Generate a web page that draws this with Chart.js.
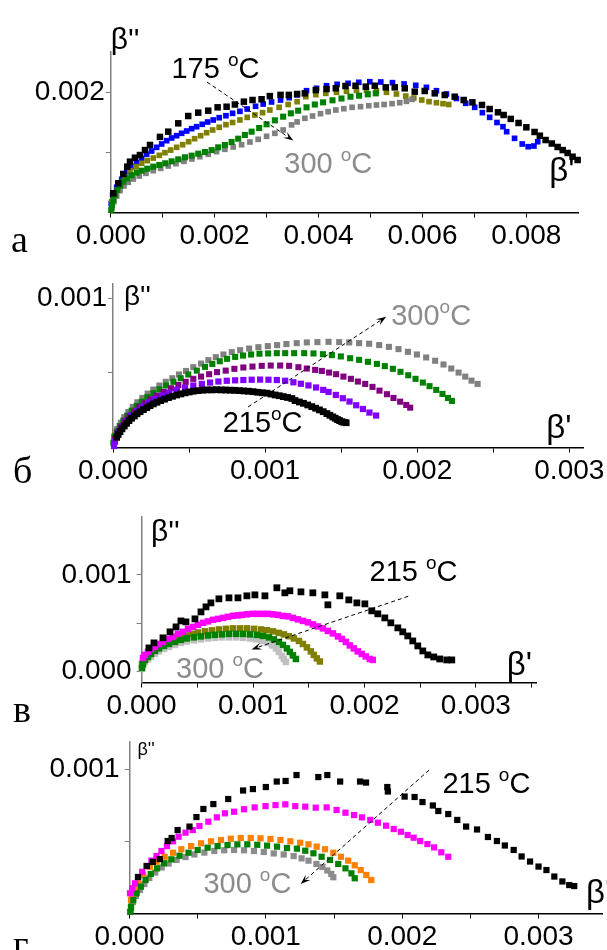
<!DOCTYPE html>
<html>
<head>
<meta charset="utf-8">
<script src="https://cdn.jsdelivr.net/npm/chart.js@4.4.1/dist/chart.umd.min.js"></script>
<style>
  html, body { margin: 0; padding: 0; background: #fff; }
  #page { position: relative; width: 607px; height: 950px; overflow: hidden; background: #fff; }
  #page canvas { position: absolute; left: 0; }
  .tag { position: absolute; font-family: "Liberation Serif", "DejaVu Serif", serif; font-size: 38px; line-height: 38px; color: #000; }
</style>
</head>
<body>
<div id="page">
  <canvas id="chartA" style="top:0px"></canvas>
  <canvas id="chartB" style="top:262px"></canvas>
  <canvas id="chartC" style="top:495px"></canvas>
  <canvas id="chartD" style="top:727px"></canvas>
  <div class="tag" style="left:11px;top:220px">а</div>
  <div class="tag" style="left:13px;top:451px">б</div>
  <div class="tag" style="left:13px;top:690px">в</div>
  <div class="tag" style="left:13px;top:925px">г</div>
</div>
<script>
// ---------- panel а : β'' vs β' , 175 … 300 °C ----------
const a175 = [[0.00005,0.00032],[0.000146,0.000487],[0.000242,0.000642],[0.000319,0.000764],[0.000371,0.000847],[0.000467,0.000913],[0.000563,0.000958],[0.00066,0.00104],[0.000756,0.001125],[0.000948,0.00126],[0.001108,0.001347],[0.0013,0.001486],[0.001492,0.001608],[0.001685,0.001664],[0.001877,0.001697],[0.002058,0.001753],[0.002231,0.001763],[0.00239,0.0018],[0.002563,0.001847],[0.00273,0.001875],[0.002904,0.001887],[0.003063,0.00194],[0.003269,0.00196],[0.003429,0.00196],[0.003588,0.001975],[0.003737,0.001986],[0.003948,0.00204],[0.004154,0.002058],[0.004333,0.00207],[0.004519,0.002108],[0.004712,0.002113],[0.00491,0.002097],[0.005083,0.002113],[0.005294,0.002086],[0.005467,0.002086],[0.00566,0.00207],[0.005852,0.002014],[0.006044,0.002025],[0.006237,0.001986],[0.006429,0.001958],[0.006621,0.00193],[0.006794,0.001875],[0.006962,0.001836],[0.007146,0.001792],[0.007294,0.001725],[0.007454,0.00167],[0.007563,0.001625],[0.0077,0.00156],[0.00785,0.001492],[0.008,0.00142],[0.008158,0.001342],[0.00826,0.00128],[0.008371,0.001208],[0.00849,0.00115],[0.008602,0.001092],[0.0087,0.00104],[0.008794,0.000992],[0.00889,0.00093],[0.008987,0.000875]];
const aBlue = [[0.00001,0.00015],[0.000038,0.000292],[0.000115,0.00042],[0.000212,0.000553],[0.000308,0.00068],[0.000404,0.000764],[0.0005,0.00083],[0.000596,0.000903],[0.000692,0.00097],[0.000788,0.001025],[0.000885,0.001086],[0.000981,0.001142],[0.001077,0.001197],[0.001173,0.001242],[0.001269,0.00128],[0.001365,0.00132],[0.001462,0.001358],[0.001558,0.001397],[0.001654,0.00143],[0.001762,0.00147],[0.001865,0.001508],[0.001973,0.001542],[0.002088,0.00158],[0.002218,0.001613],[0.002346,0.001653],[0.002487,0.001686],[0.002627,0.001725],[0.002788,0.00177],[0.002935,0.001808],[0.003096,0.001842],[0.003269,0.001875],[0.003435,0.001914],[0.003588,0.00196],[0.003769,0.00203],[0.003962,0.00207],[0.004154,0.002113],[0.004358,0.002136],[0.004569,0.002153],[0.004775,0.00217],[0.004987,0.00218],[0.005198,0.002175],[0.005423,0.002164],[0.005647,0.002142],[0.005871,0.00212],[0.006077,0.002086],[0.006269,0.00203],[0.006462,0.001975],[0.006654,0.0019],[0.006833,0.00182],[0.007006,0.001753],[0.007154,0.001664],[0.007294,0.001586],[0.007435,0.0015],[0.00755,0.00143],[0.007621,0.001347],[0.007773,0.001236],[0.007921,0.001142],[0.008035,0.001097],[0.008146,0.001108],[0.008219,0.00118]];
const aOlive = [[0.000019,0.00018],[0.000083,0.00032],[0.000179,0.000458],[0.000275,0.000597],[0.000371,0.000697],[0.000487,0.000764],[0.000596,0.00082],[0.000704,0.000864],[0.000819,0.000908],[0.000935,0.000953],[0.001044,0.000997],[0.001154,0.00104],[0.001269,0.001086],[0.001385,0.00113],[0.0015,0.00118],[0.001615,0.00123],[0.001731,0.00128],[0.001846,0.00133],[0.001962,0.001375],[0.002088,0.00142],[0.002218,0.001464],[0.002346,0.0015],[0.002487,0.001542],[0.002627,0.001586],[0.002775,0.001625],[0.002923,0.001664],[0.003063,0.001708],[0.003242,0.001753],[0.003415,0.0018],[0.003588,0.001847],[0.003756,0.00193],[0.003948,0.001964],[0.00414,0.001986],[0.004346,0.002003],[0.004538,0.00202],[0.004731,0.002036],[0.004923,0.00204],[0.005115,0.00203],[0.005308,0.002003],[0.0055,0.001975],[0.005679,0.00194],[0.005833,0.001908],[0.005987,0.001875],[0.006127,0.001847],[0.006269,0.00183],[0.006396,0.001814],[0.006506,0.0018]];
const aGreen = [[0.00001,0.000042],[0.000025,0.000125],[0.00005,0.000208],[0.000083,0.000292],[0.000127,0.000375],[0.000179,0.000447],[0.000242,0.000514],[0.000319,0.00057],[0.000404,0.00062],[0.0005,0.000664],[0.000596,0.000697],[0.000704,0.00073],[0.000819,0.000764],[0.000935,0.000792],[0.00105,0.00082],[0.001173,0.000853],[0.0013,0.000886],[0.001429,0.00092],[0.001558,0.000947],[0.001685,0.00098],[0.001813,0.001008],[0.001942,0.00104],[0.002069,0.001086],[0.002198,0.001125],[0.002327,0.001175],[0.002454,0.00123],[0.002583,0.001292],[0.002712,0.001347],[0.002858,0.001408],[0.003,0.00147],[0.00316,0.001536],[0.003319,0.001597],[0.003467,0.001653],[0.003608,0.001697],[0.003769,0.001753],[0.003929,0.0018],[0.004088,0.001836],[0.004269,0.00187],[0.004442,0.0019],[0.004615,0.00193],[0.004781,0.001947],[0.004948,0.00197],[0.005102,0.001986]];
const a300 = [[0.000025,0.00008],[0.000063,0.00018],[0.000115,0.000275],[0.000179,0.000364],[0.000256,0.000442],[0.000338,0.000503],[0.000435,0.000558],[0.00055,0.000608],[0.000679,0.000653],[0.000819,0.000697],[0.000962,0.000736],[0.001108,0.000775],[0.001256,0.000814],[0.00141,0.000853],[0.001563,0.000892],[0.001717,0.00093],[0.001877,0.00097],[0.002038,0.001014],[0.002198,0.001053],[0.002358,0.001092],[0.002519,0.00113],[0.002679,0.001175],[0.002838,0.00122],[0.003,0.00127],[0.00316,0.00132],[0.003319,0.001375],[0.003481,0.00146],[0.003588,0.00151],[0.003737,0.00157],[0.003885,0.001608],[0.004038,0.001647],[0.004185,0.00168],[0.004333,0.001708],[0.004487,0.00173],[0.004646,0.001753],[0.004808,0.001764],[0.004967,0.00178],[0.005115,0.001792],[0.005262,0.0018],[0.005415,0.001814],[0.005563,0.00183],[0.005692,0.001853],[0.0058,0.001886]];

// ---------- panel б : 215 … 300 °C ----------
const b215 = [[0.000024,0.000068],[0.000034,0.000087],[0.000046,0.000106],[0.000059,0.000125],[0.000074,0.000144],[0.000089,0.000162],[0.000105,0.00018],[0.000122,0.000196],[0.00014,0.000211],[0.000158,0.000226],[0.000178,0.00024],[0.0002,0.000254],[0.000222,0.000267],[0.000243,0.00028],[0.000265,0.000292],[0.000289,0.000303],[0.000314,0.000314],[0.000339,0.000324],[0.000364,0.000334],[0.000391,0.000343],[0.000419,0.000352],[0.000446,0.000359],[0.000474,0.000366],[0.000501,0.000372],[0.000528,0.000377],[0.000558,0.000381],[0.000588,0.000384],[0.000618,0.000386],[0.000649,0.000386],[0.00068,0.000387],[0.000711,0.000386],[0.00074,0.000385],[0.00077,0.000384],[0.0008,0.000383],[0.000829,0.000381],[0.00086,0.000379],[0.00089,0.000377],[0.000921,0.000374],[0.000952,0.00037],[0.000981,0.000367],[0.001011,0.000364],[0.001039,0.000358],[0.001066,0.000352],[0.001093,0.000347],[0.00112,0.000341],[0.001148,0.000335],[0.001176,0.000328],[0.001197,0.000314],[0.001225,0.000305],[0.001252,0.000296],[0.00128,0.000285],[0.001307,0.000274],[0.001332,0.000263],[0.001357,0.000252],[0.001382,0.00024],[0.001406,0.000227],[0.001426,0.000216],[0.001445,0.000205],[0.001461,0.000196],[0.001476,0.000187],[0.00149,0.00018],[0.001504,0.000173],[0.001518,0.000169],[0.001533,0.000166]];
const bViolet = [[0.0000066,0.00001],[0.000013,0.000039],[0.000024,0.000073],[0.000039,0.000106],[0.000061,0.000144],[0.000088,0.00018],[0.000118,0.000214],[0.000153,0.000245],[0.000191,0.000274],[0.000232,0.000301],[0.000276,0.000326],[0.000322,0.000348],[0.00037,0.000368],[0.000421,0.000386],[0.000474,0.000401],[0.000528,0.000415],[0.000584,0.000426],[0.000638,0.000435],[0.000693,0.000442],[0.000748,0.000447],[0.000803,0.00045],[0.000857,0.000452],[0.000912,0.000454],[0.000967,0.000455],[0.001022,0.000454],[0.001077,0.000452],[0.001132,0.000447],[0.001186,0.000437],[0.001235,0.000427],[0.001285,0.000416],[0.001335,0.000402],[0.001382,0.000386],[0.001417,0.000372],[0.001465,0.000352],[0.001511,0.00033],[0.001555,0.000308],[0.001599,0.000283],[0.001643,0.000258],[0.001686,0.000234],[0.00173,0.000214]];
const bPurple = [[0.000013,0.000055],[0.000031,0.000095],[0.000053,0.000135],[0.000079,0.000173],[0.000107,0.000207],[0.00014,0.000238],[0.000173,0.00027],[0.000211,0.000296],[0.000248,0.000323],[0.000289,0.000348],[0.000333,0.000372],[0.000382,0.000397],[0.00043,0.000419],[0.000478,0.00044],[0.000528,0.00046],[0.000579,0.000475],[0.000632,0.000491],[0.000684,0.000505],[0.000741,0.000515],[0.000798,0.000527],[0.000857,0.000536],[0.000917,0.000542],[0.000978,0.000547],[0.001037,0.000549],[0.001099,0.000549],[0.001158,0.000547],[0.001219,0.000538],[0.001274,0.000529],[0.001329,0.00052],[0.001373,0.000513],[0.001421,0.000502],[0.001467,0.000491],[0.001515,0.000475],[0.001564,0.00046],[0.00161,0.000442],[0.001658,0.000426],[0.001706,0.000406],[0.001752,0.000381],[0.001801,0.000357],[0.001844,0.000332],[0.001888,0.000307],[0.001928,0.000285],[0.001954,0.000267]];
const bGreen = [[0.000003,0.00003],[0.0000086,0.000073],[0.000024,0.000106],[0.000044,0.000144],[0.000068,0.00018],[0.000094,0.000214],[0.000123,0.000247],[0.000156,0.000279],[0.000189,0.000307],[0.000226,0.000337],[0.000265,0.000364],[0.000305,0.00039],[0.000349,0.000415],[0.000397,0.00044],[0.000445,0.000464],[0.000495,0.000489],[0.000551,0.000515],[0.000605,0.00054],[0.000653,0.00056],[0.000702,0.000578],[0.00075,0.000594],[0.000803,0.000607],[0.000855,0.000616],[0.000908,0.000623],[0.000963,0.000628],[0.00102,0.00063],[0.001077,0.000632],[0.001132,0.000632],[0.001191,0.000632],[0.001257,0.000632],[0.001318,0.00063],[0.00138,0.000625],[0.001439,0.000619],[0.001498,0.00061],[0.001559,0.000598],[0.001618,0.000587],[0.001676,0.000574],[0.001735,0.00056],[0.001787,0.000545],[0.00184,0.000527],[0.00189,0.000507],[0.001941,0.000484],[0.001989,0.00046],[0.002037,0.000435],[0.002081,0.000411],[0.002125,0.000386],[0.002166,0.000359],[0.002202,0.000332],[0.002228,0.000312]];
const b300 = [[0.000005,0.00004],[0.000013,0.000084],[0.000028,0.000124],[0.000051,0.000166],[0.000074,0.000203],[0.000101,0.000238],[0.00013,0.000272],[0.00016,0.000303],[0.000193,0.000332],[0.000228,0.000361],[0.000265,0.000388],[0.000305,0.000415],[0.000347,0.00044],[0.00039,0.000464],[0.000434,0.000489],[0.00048,0.000513],[0.000528,0.000538],[0.000579,0.000562],[0.000627,0.000585],[0.000676,0.000605],[0.000726,0.000623],[0.000781,0.000639],[0.000836,0.000652],[0.000895,0.000663],[0.000956,0.000672],[0.001018,0.000679],[0.001079,0.000686],[0.00114,0.000693],[0.001208,0.000699],[0.001274,0.000704],[0.001344,0.000706],[0.001417,0.000708],[0.001487,0.000706],[0.001553,0.000704],[0.001618,0.000699],[0.001684,0.000695],[0.00175,0.000686],[0.001814,0.000674],[0.001877,0.000659],[0.001939,0.000641],[0.001998,0.000623],[0.002059,0.000603],[0.002118,0.000581],[0.002173,0.000556],[0.002224,0.000529],[0.002272,0.000502],[0.002316,0.000475],[0.002357,0.000448],[0.002397,0.000426]];

// ---------- panel в ----------
const c215 = [[0.000066,0.000245],[0.000111,0.000297],[0.000192,0.000349],[0.000255,0.000411],[0.000309,0.000462],[0.000353,0.000524],[0.000398,0.000514],[0.000479,0.000545],[0.000533,0.000617],[0.000578,0.000669],[0.000622,0.00071],[0.000694,0.000752],[0.000784,0.000762],[0.000865,0.000762],[0.000945,0.000783],[0.001017,0.000793],[0.001107,0.000783],[0.001214,0.000866],[0.001286,0.000814],[0.001331,0.000835],[0.00143,0.000824],[0.001537,0.000814],[0.001645,0.000793],[0.001672,0.00069],[0.001779,0.000783],[0.00186,0.000741],[0.001932,0.00071],[0.002004,0.0007],[0.002066,0.000628],[0.00212,0.000597],[0.002183,0.000555],[0.002237,0.000504],[0.0023,0.000452],[0.002344,0.000411],[0.002389,0.000369],[0.002434,0.000317],[0.002479,0.000266],[0.002524,0.000214],[0.002569,0.000173],[0.002622,0.000152],[0.002676,0.000131],[0.002739,0.000121],[0.002784,0.000121]];
const cMagenta = [[0.0000126,0.000142],[0.0000305,0.000173],[0.0000574,0.000204],[0.0000843,0.000235],[0.00012,0.000255],[0.000156,0.000286],[0.000192,0.000307],[0.000237,0.000338],[0.000282,0.000359],[0.000326,0.00039],[0.000371,0.000411],[0.000416,0.000442],[0.000461,0.000462],[0.000506,0.000483],[0.000551,0.000504],[0.000596,0.000519],[0.000641,0.000535],[0.000686,0.000545],[0.000731,0.000555],[0.000775,0.000566],[0.00082,0.000576],[0.000865,0.000581],[0.000901,0.000586],[0.000945,0.000592],[0.000999,0.000597],[0.001044,0.000597],[0.001089,0.000597],[0.001134,0.000597],[0.001179,0.000592],[0.001223,0.000586],[0.001268,0.000576],[0.001313,0.000571],[0.001358,0.000555],[0.001403,0.00054],[0.001448,0.000524],[0.001493,0.000509],[0.001537,0.000488],[0.001582,0.000467],[0.001627,0.000447],[0.001672,0.000421],[0.001717,0.000395],[0.001762,0.000364],[0.001797,0.000338],[0.001833,0.000307],[0.001869,0.000271],[0.001905,0.00024],[0.00194,0.000209],[0.001976,0.000183],[0.002012,0.000157],[0.002048,0.000131],[0.002075,0.000121]];
const cOlive = [[0.0000036,0.00008],[0.0000215,0.000121],[0.0000484,0.000162],[0.0000753,0.000193],[0.000111,0.000224],[0.000147,0.000255],[0.000192,0.000286],[0.000237,0.000307],[0.000291,0.000333],[0.000344,0.000354],[0.000398,0.000374],[0.000452,0.00039],[0.000506,0.000405],[0.000569,0.000416],[0.000631,0.000426],[0.000694,0.000436],[0.000757,0.000442],[0.00082,0.000447],[0.000883,0.000447],[0.000945,0.000447],[0.001008,0.000442],[0.001071,0.000436],[0.001124,0.000428],[0.001179,0.000416],[0.001232,0.0004],[0.001277,0.000385],[0.001322,0.000366],[0.001367,0.000343],[0.001412,0.000317],[0.001448,0.000286],[0.001484,0.00025],[0.001519,0.000209],[0.001546,0.000173],[0.001573,0.000137],[0.0016,0.000105]];
const cGreen = [[0.0000036,0.000038],[0.0000126,0.00008],[0.0000305,0.000121],[0.0000574,0.000152],[0.0000843,0.000183],[0.00012,0.000214],[0.000156,0.00024],[0.000201,0.000266],[0.000246,0.000286],[0.0003,0.000307],[0.000353,0.000328],[0.000407,0.000343],[0.00047,0.000354],[0.000533,0.000364],[0.000596,0.000374],[0.000658,0.00038],[0.000721,0.000385],[0.000784,0.00039],[0.000847,0.00039],[0.000909,0.00039],[0.000972,0.000385],[0.001035,0.00038],[0.001089,0.000369],[0.001143,0.000354],[0.001187,0.000333],[0.001232,0.000307],[0.001268,0.000276],[0.001304,0.00024],[0.001331,0.000204],[0.001358,0.000168],[0.001385,0.000131]];
const c300 = [[0.0000036,0.000028],[0.0000126,0.000059],[0.0000305,0.0001],[0.0000574,0.000126],[0.0000843,0.000152],[0.00012,0.000183],[0.000156,0.000209],[0.000201,0.000235],[0.000246,0.000255],[0.0003,0.000276],[0.000353,0.000297],[0.000407,0.000312],[0.00047,0.000323],[0.000533,0.000333],[0.000596,0.000343],[0.000658,0.000349],[0.000721,0.000354],[0.000784,0.000354],[0.000847,0.000354],[0.000909,0.000349],[0.000972,0.000343],[0.001026,0.000333],[0.00108,0.000317],[0.001125,0.000297],[0.00117,0.000271],[0.001206,0.00024],[0.001232,0.000204],[0.001259,0.000162],[0.001277,0.000131],[0.001295,0.0001]];

// ---------- panel г ----------
const d215 = [[0.000062,0.000253],[0.000127,0.000329],[0.000171,0.000357],[0.000222,0.000377],[0.00028,0.000502],[0.000309,0.000523],[0.000353,0.000578],[0.00044,0.000602],[0.000491,0.000668],[0.000542,0.000724],[0.000615,0.000758],[0.000724,0.000793],[0.000833,0.000852],[0.000905,0.000862],[0.001,0.000876],[0.00108,0.000914],[0.001145,0.000918],[0.001225,0.000959],[0.001385,0.000945],[0.001451,0.000959],[0.001545,0.000914],[0.001691,0.000914],[0.001735,0.000907],[0.001891,0.000876],[0.001895,0.000845],[0.002018,0.00081],[0.002091,0.000807],[0.002149,0.000772],[0.002225,0.000748],[0.002265,0.00071],[0.002338,0.000689],[0.002404,0.000648],[0.002469,0.000602],[0.002549,0.000582],[0.002629,0.00053],[0.002695,0.000502],[0.002753,0.000471],[0.002818,0.00044],[0.002876,0.000395],[0.002938,0.00036],[0.003,0.000325],[0.003058,0.000301],[0.003116,0.000256],[0.003175,0.000222],[0.003225,0.000197],[0.003262,0.00019]];
const dMagenta = [[0.0000036,0.00014],[0.00002,0.000175],[0.00004,0.000209],[0.000064,0.000251],[0.000093,0.000289],[0.000125,0.000329],[0.000161,0.000366],[0.000198,0.000398],[0.000234,0.000433],[0.000275,0.000467],[0.000319,0.0005],[0.00036,0.000532],[0.000411,0.00056],[0.000464,0.000578],[0.000513,0.000606],[0.000578,0.000636],[0.000641,0.000666],[0.0007,0.000694],[0.000767,0.000705],[0.00084,0.000722],[0.000918,0.000735],[0.000998,0.000744],[0.001071,0.000751],[0.001143,0.000756],[0.001216,0.000744],[0.001289,0.00074],[0.001366,0.000733],[0.001446,0.000735],[0.001519,0.000717],[0.001584,0.000698],[0.001647,0.000682],[0.001705,0.000666],[0.001766,0.000648],[0.001822,0.000629],[0.001882,0.000608],[0.001938,0.000585],[0.001991,0.000566],[0.00204,0.000544],[0.002084,0.000525],[0.002132,0.000502],[0.002185,0.000481],[0.002234,0.000458],[0.002287,0.000424],[0.002338,0.000393]];
const dOrange = [[0.000011,0.000093],[0.000018,0.000121],[0.000028,0.00014],[0.000044,0.000177],[0.000064,0.000209],[0.0001,0.000267],[0.000149,0.000324],[0.000198,0.000359],[0.000258,0.000393],[0.000319,0.000421],[0.00038,0.000445],[0.000452,0.000467],[0.000525,0.000486],[0.000598,0.0005],[0.000671,0.000509],[0.000743,0.000518],[0.000816,0.000523],[0.000889,0.000523],[0.000961,0.000521],[0.001034,0.000516],[0.001107,0.000509],[0.00118,0.0005],[0.001252,0.00049],[0.001313,0.000479],[0.001373,0.000463],[0.001434,0.000445],[0.001495,0.000421],[0.001551,0.000393],[0.001604,0.000366],[0.001652,0.000334],[0.001696,0.000301],[0.001737,0.000267],[0.001773,0.000232]];
const dGreen = [[0.0000073,0.000012],[0.000011,0.000047],[0.000028,0.000093],[0.000052,0.00014],[0.000084,0.000186],[0.000118,0.000232],[0.000156,0.000274],[0.000202,0.000313],[0.000253,0.000348],[0.000307,0.000375],[0.000367,0.0004],[0.000433,0.000421],[0.0005,0.00044],[0.000573,0.000456],[0.000646,0.000467],[0.000719,0.000474],[0.000791,0.000479],[0.000864,0.000479],[0.000937,0.000476],[0.001009,0.00047],[0.001082,0.000463],[0.001155,0.000454],[0.001228,0.000449],[0.001289,0.000435],[0.001349,0.000417],[0.001409,0.000393],[0.001471,0.000371],[0.001531,0.000343],[0.001584,0.000313],[0.001628,0.000278],[0.001652,0.000244]];
const d300 = [[0.0000036,0.00001],[0.000011,0.000038],[0.000025,0.00008],[0.000047,0.000121],[0.000076,0.000163],[0.000109,0.000204],[0.000145,0.000246],[0.000189,0.000284],[0.000236,0.000319],[0.000287,0.000346],[0.000345,0.000371],[0.000411,0.000391],[0.000476,0.000409],[0.000549,0.000422],[0.000622,0.000433],[0.000695,0.000438],[0.000767,0.00044],[0.00084,0.000438],[0.000913,0.000433],[0.000985,0.000426],[0.001058,0.000416],[0.001131,0.000409],[0.001204,0.000398],[0.001262,0.000382],[0.001313,0.000366],[0.001371,0.000343],[0.001415,0.000322],[0.001451,0.000298],[0.00148,0.000274],[0.001495,0.000251]];

// ---------- axis ticks (values) and labelled ticks ----------
const aXTicks = [0, 0.001, 0.002, 0.003, 0.004, 0.005, 0.006, 0.007, 0.008];
const aXLabels = [0, 0.002, 0.004, 0.006, 0.008];
const aYTicks = [0.001, 0.002];
const aYLabels = [0.002];
const bXTicks = [0, 0.0005, 0.001, 0.0015, 0.002, 0.0025, 0.003];
const bXLabels = [0, 0.001, 0.002, 0.003];
const bYTicks = [0.0005, 0.001];
const bYLabels = [0.001];
const cXTicks = [0, 0.0005, 0.001, 0.0015, 0.002, 0.0025, 0.003, 0.0035];
const cXLabels = [0, 0.001, 0.002, 0.003];
const cYTicks = [0, 0.0005, 0.001];
const cYLabels = [0, 0.001];
const dXTicks = [0, 0.0005, 0.001, 0.0015, 0.002, 0.0025, 0.003];
const dXLabels = [0, 0.001, 0.002, 0.003];
const dYTicks = [0.0005, 0.001];
const dYLabels = [0.001];

// ---------- text notes and arrows (in data units) ----------
const aNotes = [
  { x: 0.001169, y: 0.002237, text: '175 ', sup: 'o', tail: 'C', color: '#000' },
  { x: 0.003342, y: 0.000658, text: '300 ', sup: 'o', tail: 'C', color: '#8c8c8c' },
  { x: 0.0000, y: 0.00273, text: "β''", size: 30, color: '#000' },
  { x: 0.008442, y: 0.000517, text: "β'", size: 33, color: '#000' }
];
const aArrows = [[0.001852, 0.002175, 0.003515, 0.0012]];
const bNotes = [
  { x: 0.001829, y: 0.000822, text: '300', sup: 'o', tail: 'C', color: '#8c8c8c' },
  { x: 0.000721, y: 0.000106, text: '215', sup: 'o', tail: 'C', color: '#000' },
  { x: 0.0000724, y: 0.000956, text: "β''", size: 28, color: '#000' },
  { x: 0.002849, y: 0.0000638, text: "β'", size: 33, color: '#000' }
];
const bArrows = [[0.000888, 0.000272, 0.001796, 0.000876]];
const cNotes = [
  { x: 0.002046, y: 0.000931, text: '215 ', sup: 'o', tail: 'C', color: '#000' },
  { x: 0.000309, y: -0.0000651, text: '300 ', sup: 'o', tail: 'C', color: '#8c8c8c' },
  { x: 0.0000843, y: 0.001352, text: "β''", size: 30, color: '#000' },
  { x: 0.003277, y: -0.0000341, text: "β'", size: 33, color: '#000' }
];
const cArrows = [[0.002393, 0.000778, 0.000987, 0.00023]];
const dNotes = [
  { x: 0.002295, y: 0.000834, text: '215 ', sup: 'o', tail: 'C', color: '#000' },
  { x: 0.000542, y: 0.000142, text: '300 ', sup: 'o', tail: 'C', color: '#8c8c8c' },
  { x: 0.0000582, y: 0.001098, text: "β''", size: 18, color: '#000' },
  { x: 0.003349, y: 0.0000727, text: "β'", size: 33, color: '#000' }
];
const dArrows = [[0.002198, 0.000994, 0.001255, 0.000204]];

const FONT = '"Liberation Sans", Arial, sans-serif';

// draws the temperature notes, axis symbols and dashed arrows
const notesPlugin = {
  id: 'notes',
  afterDatasetsDraw(chart, args, opts) {
    const ctx = chart.ctx, xs = chart.scales.x, ys = chart.scales.y;
    ctx.save();
    (opts.arrows || []).forEach(a => {
      const x1 = xs.getPixelForValue(a[0]), y1 = ys.getPixelForValue(a[1]);
      const x2 = xs.getPixelForValue(a[2]), y2 = ys.getPixelForValue(a[3]);
      const ang = Math.atan2(y2 - y1, x2 - x1), c = Math.cos(ang), s = Math.sin(ang);
      const hl = 10, hw = 3.5;
      ctx.strokeStyle = '#000';
      ctx.lineWidth = 1;
      ctx.setLineDash([4, 3]);
      ctx.beginPath();
      ctx.moveTo(x1, y1);
      ctx.lineTo(x2 - c * hl * 0.6, y2 - s * hl * 0.6);
      ctx.stroke();
      ctx.setLineDash([]);
      ctx.fillStyle = '#000';
      ctx.beginPath();
      ctx.moveTo(x2, y2);
      ctx.lineTo(x2 - hl * c + hw * s, y2 - hl * s - hw * c);
      ctx.lineTo(x2 - 0.6 * hl * c, y2 - 0.6 * hl * s);
      ctx.lineTo(x2 - hl * c - hw * s, y2 - hl * s + hw * c);
      ctx.closePath();
      ctx.fill();
    });
    (opts.notes || []).forEach(t => {
      let px = xs.getPixelForValue(t.x);
      const py = ys.getPixelForValue(t.y);
      const size = t.size || 29;
      ctx.fillStyle = t.color;
      ctx.textAlign = 'left';
      ctx.textBaseline = 'alphabetic';
      ctx.font = size + 'px ' + FONT;
      ctx.fillText(t.text, px, py);
      px += ctx.measureText(t.text).width;
      if (t.sup) {
        ctx.font = '19px ' + FONT;
        ctx.fillText(t.sup, px, py - 12);
        px += ctx.measureText(t.sup).width;
        ctx.font = size + 'px ' + FONT;
        ctx.fillText(t.tail, px, py);
      }
    });
    ctx.restore();
  }
};

function buildPanel(p) {
  const cv = document.getElementById(p.id);
  cv.width = 607; cv.height = p.h;
  cv.style.width = '607px'; cv.style.height = p.h + 'px';
  const top = p.area.top - p.canvasTop;
  const bottom = p.area.bottom - p.canvasTop;
  const n = p.series.length;
  new Chart(cv, {
    type: 'scatter',
    data: {
      datasets: p.series.map((s, i) => ({
        data: s.pts.map(([x, y]) => ({ x, y })),
        backgroundColor: s.color,
        borderWidth: 0,
        pointStyle: 'rect',
        pointRadius: s.r,
        pointHoverRadius: s.r,
        showLine: false,
        clip: false,
        order: n - i
      }))
    },
    options: {
      responsive: false,
      animation: false,
      events: [],
      layout: { padding: { left: 0, top: top, right: 607 - p.area.right, bottom: 0 } },
      plugins: {
        legend: { display: false },
        tooltip: { enabled: false },
        notes: { notes: p.notes, arrows: p.arrows }
      },
      scales: {
        x: {
          type: 'linear', min: 0, max: p.xMax,
          afterBuildTicks: s => { s.ticks = p.xTicks.map(v => ({ value: v })); },
          afterFit: s => { s.height = p.h - bottom; s.paddingLeft = 0; s.paddingRight = 0; },
          ticks: {
            autoSkip: false, maxRotation: 0, minRotation: 0, padding: p.xPad, color: '#000',
            font: { family: FONT, size: 28 },
            callback: v => p.xLabels.includes(v) ? v.toFixed(3) : ''
          },
          grid: { drawOnChartArea: false, drawTicks: true, tickLength: 5, color: '#000', lineWidth: 1 },
          border: { color: '#000', width: 1.5 }
        },
        y: {
          type: 'linear', min: p.yMin, max: p.yMax,
          afterBuildTicks: s => { s.ticks = p.yTicks.map(v => ({ value: v })); },
          afterFit: s => { s.width = p.area.left; s.paddingTop = 0; s.paddingBottom = 0; },
          ticks: {
            autoSkip: false, padding: p.yPad, color: '#000',
            font: { family: FONT, size: 28 },
            callback: v => p.yLabels.includes(v) ? v.toFixed(3) : ''
          },
          grid: { drawOnChartArea: false, drawTicks: true, tickLength: 5, color: '#808080', lineWidth: 1 },
          border: { color: '#808080', width: 1.5 }
        }
      }
    },
    plugins: [notesPlugin]
  });
}

buildPanel({
  id: 'chartA', canvasTop: 0, h: 262,
  area: { left: 110.7, right: 578.3, top: 52, bottom: 212.5 },
  xMax: 0.009, yMin: 0, yMax: 0.002675,
  xTicks: aXTicks, xLabels: aXLabels, yTicks: aYTicks, yLabels: aYLabels, xPad: 2, yPad: 1,
  notes: aNotes, arrows: aArrows,
  series: [
    { pts: aBlue, color: '#0000ff', r: 4.0 },
    { pts: aOlive, color: '#808000', r: 4.0 },
    { pts: a300, color: '#808080', r: 4.0 },
    { pts: aGreen, color: '#008000', r: 4.3 },
    { pts: a175, color: '#000000', r: 4.6 }
  ]
});

buildPanel({
  id: 'chartB', canvasTop: 262, h: 233,
  area: { left: 113, right: 583, top: 283.3, bottom: 447.5 },
  xMax: 0.00309, yMin: 0, yMax: 0.0011,
  xTicks: bXTicks, xLabels: bXLabels, yTicks: bYTicks, yLabels: bYLabels, xPad: 2, yPad: 1,
  notes: bNotes, arrows: bArrows,
  series: [
    { pts: b300, color: '#808080', r: 4.3 },
    { pts: bGreen, color: '#008000', r: 4.3 },
    { pts: bPurple, color: '#800080', r: 4.3 },
    { pts: bViolet, color: '#8000ff', r: 4.4 },
    { pts: b215, color: '#000000', r: 4.8 }
  ]
});

buildPanel({
  id: 'chartC', canvasTop: 495, h: 232,
  area: { left: 141.6, right: 536, top: 516.7, bottom: 682.5 },
  xMax: 0.00354, yMin: -0.000112, yMax: 0.0016,
  xTicks: cXTicks, xLabels: cXLabels, yTicks: cYTicks, yLabels: cYLabels, xPad: 2, yPad: 5,
  notes: cNotes, arrows: cArrows,
  series: [
    { pts: c300, color: '#c0c0c0', r: 4.6 },
    { pts: cOlive, color: '#808000', r: 4.6 },
    { pts: cGreen, color: '#008000', r: 4.6 },
    { pts: cMagenta, color: '#ff00ff', r: 4.6 },
    { pts: c215, color: '#000000', r: 4.8 }
  ]
});

buildPanel({
  id: 'chartD', canvasTop: 727, h: 223,
  area: { left: 129.5, right: 607, top: 741.7, bottom: 913.5 },
  xMax: 0.00347, yMin: 0, yMax: 0.00119,
  xTicks: dXTicks, xLabels: dXLabels, yTicks: dYTicks, yLabels: dYLabels, xPad: 2, yPad: 5,
  notes: dNotes, arrows: dArrows,
  series: [
    { pts: d300, color: '#8c8c8c', r: 4.4 },
    { pts: dOrange, color: '#ff8000', r: 4.4 },
    { pts: dGreen, color: '#008000', r: 4.4 },
    { pts: dMagenta, color: '#ff00ff', r: 4.4 },
    { pts: d215, color: '#000000', r: 4.4 }
  ]
});
</script>
</body>
</html>
